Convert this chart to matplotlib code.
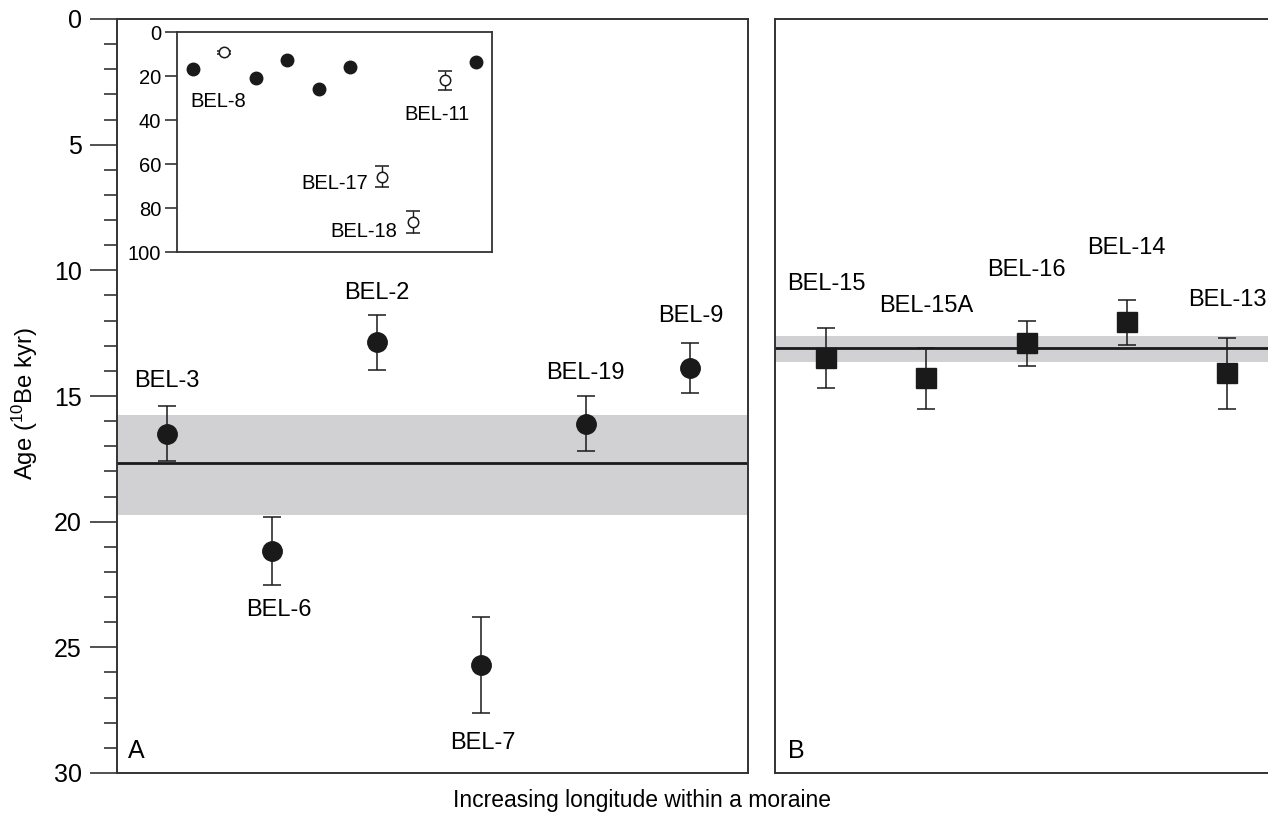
import matplotlib
matplotlib.use("Agg")
import matplotlib.pyplot as plt

plt.rcParams['font.family'] = ['Liberation Sans', 'DejaVu Sans']
plt.rcParams['mathtext.fontset'] = 'custom'
plt.rcParams['mathtext.rm'] = 'Liberation Sans'
plt.rcParams['mathtext.it'] = 'Liberation Sans'

# Panel A data
a_names = ['BEL-3', 'BEL-6', 'BEL-2', 'BEL-7', 'BEL-19', 'BEL-9']
a_ages = [16.5, 21.15, 12.87, 25.7, 16.1, 13.9]
a_err = [1.1, 1.35, 1.1, 1.9, 1.1, 1.0]
a_mean = 17.65
a_band = (15.75, 19.75)

# Panel B data
b_names = ['BEL-15', 'BEL-15A', 'BEL-16', 'BEL-14', 'BEL-13']
b_ages = [13.5, 14.3, 12.9, 12.07, 14.1]
b_err = [1.2, 1.2, 0.9, 0.9, 1.4]
b_mean = 13.1
b_band = (12.6, 13.65)

# Inset data (all samples of moraine A)
in_x = [1, 3, 4, 5, 6, 10]
in_ages = [16.6, 21.0, 12.8, 25.8, 16.0, 13.7]
out_names = ['BEL-8', 'BEL-17', 'BEL-18', 'BEL-11']
out_x = [2, 7, 8, 9]
out_ages = [9.3, 65.7, 86.4, 22.0]
out_err = [0.8, 4.6, 5.1, 4.3]

W, H = 1268, 823
fig = plt.figure(figsize=(W / 100, H / 100), dpi=100)

def fx(px):
    return px / W

def fy(py):
    return 1 - py / H

axA = fig.add_axes([fx(117), fy(773), fx(748) - fx(117), fy(19) - fy(773)])
axB = fig.add_axes([fx(775), fy(773), fx(1277) - fx(775), fy(19) - fy(773)])

dark = '#1a1a1a'
band_col = '#d1d1d3'

for ax in (axA, axB):
    for s in ax.spines.values():
        s.set_linewidth(1.4)
        s.set_color('#333333')
    ax.set_ylim(30, 0)

# Panel A
xa = list(range(1, len(a_names) + 1))
axA.set_xlim(0.52, 6.55)
axA.axhspan(a_band[0], a_band[1], color=band_col, zorder=0, lw=0)
axA.axhline(a_mean, color=dark, lw=2, zorder=1)
axA.errorbar(xa, a_ages, yerr=a_err, fmt='none', ecolor=dark, elinewidth=1.1,
             capsize=6.5, capthick=1.1, zorder=2)
axA.plot(xa, a_ages, 'o', color=dark, ms=14, zorder=3)
axA.set_xticks([])
axA.set_yticks(range(0, 31, 5))
axA.set_yticks(range(0, 31, 1), minor=True)
axA.tick_params(axis='y', which='major', length=19.5, width=1.2, labelsize=18,
                color='#333333', pad=6)
axA.tick_params(axis='y', which='minor', length=9.5, width=1.2, color='#333333')
axA.set_ylabel(r'Age ($^{10}$Be kyr)', fontsize=17.2)
axA.yaxis.set_label_coords(-0.122, 0.49)

a_lab_x = [1.0, 2.07, 3.0, 4.02, 5.0, 6.0]
a_lab_y = [14.4, 23.5, 10.9, 28.8, 14.1, 11.8]
for n, lx, ly in zip(a_names, a_lab_x, a_lab_y):
    axA.text(lx, ly, n, ha='center', va='center', fontsize=17)
axA.text(0.017, 0.013, 'A', transform=axA.transAxes, ha='left', va='bottom', fontsize=18)

# Panel B
xb = list(range(1, len(b_names) + 1))
axB.set_xlim(0.49, 5.5)
axB.axhspan(b_band[0], b_band[1], color=band_col, zorder=0, lw=0)
axB.axhline(b_mean, color=dark, lw=2, zorder=1)
axB.errorbar(xb, b_ages, yerr=b_err, fmt='none', ecolor=dark, elinewidth=1.1,
             capsize=6.5, capthick=1.1, zorder=2)
axB.plot(xb, b_ages, 's', color=dark, ms=14, zorder=3)
axB.set_xticks([])
axB.set_yticks([])
b_lab_y = [10.56, 11.4, 10.0, 9.12, 11.2]
for n, lx, ly in zip(b_names, xb, b_lab_y):
    axB.text(lx, ly, n, ha='center', va='center', fontsize=17)
axB.text(0.026, 0.013, 'B', transform=axB.transAxes, ha='left', va='bottom', fontsize=18)

# Inset
axI = fig.add_axes([fx(177), fy(252), fx(492) - fx(177), fy(32) - fy(252)])
for s in axI.spines.values():
    s.set_linewidth(1.3)
    s.set_color('#333333')
axI.set_xlim(0.5, 10.5)
axI.set_ylim(100, 0)
axI.set_xticks([])
axI.set_yticks(range(0, 101, 20))
axI.tick_params(axis='y', length=8.5, width=1.2, labelsize=14.5, color='#333333', pad=3)
axI.plot(in_x, in_ages, 'o', color=dark, ms=9, zorder=3)
axI.errorbar(out_x, out_ages, yerr=out_err, fmt='o', mfc='white', mec=dark, mew=1.1,
             ms=7.5, ecolor=dark, elinewidth=1.0, capsize=5, capthick=1.0, zorder=3)
axI.text(1.81, 31.4, 'BEL-8', ha='center', va='center', fontsize=14.5)
axI.text(8.75, 37.5, 'BEL-11', ha='center', va='center', fontsize=14.5)
axI.text(6.58, 69, 'BEL-17', ha='right', va='center', fontsize=14.5)
axI.text(7.48, 90.5, 'BEL-18', ha='right', va='center', fontsize=14.5)

fig.text(fx(642), fy(800), 'Increasing longitude within a moraine', ha='center',
         va='center', fontsize=16.5)

fig.savefig('out.png', dpi=100)
